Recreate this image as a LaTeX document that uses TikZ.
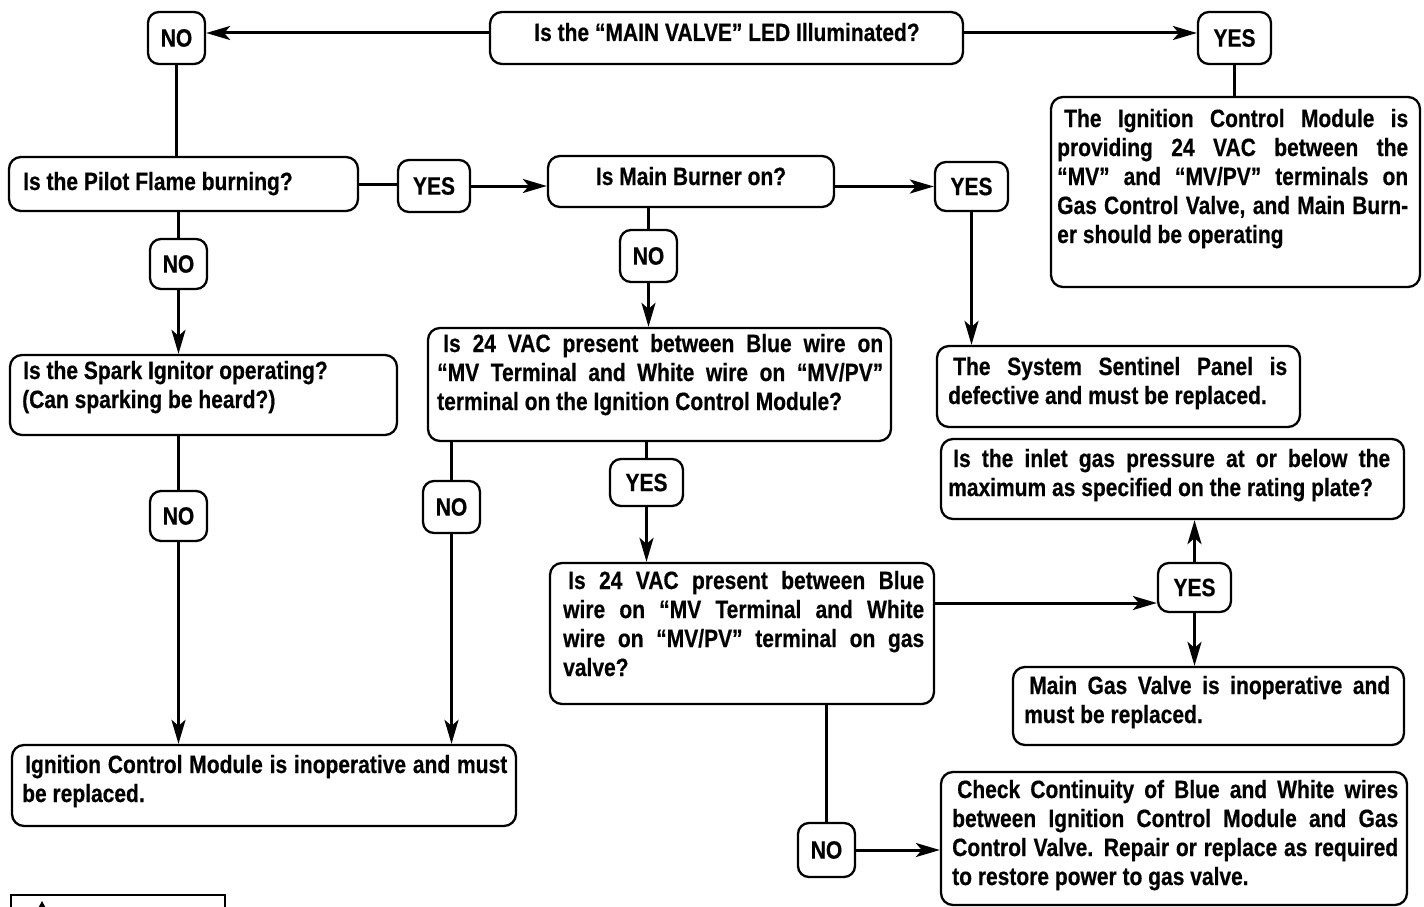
\documentclass[tikz,border=0pt]{standalone}
\usepackage{fontspec}
\setmainfont{Liberation Sans}[FakeStretch=0.84, FakeBold=0.5]
\usetikzlibrary{arrows.meta}
\tolerance=10000 \hyphenpenalty=10000 \exhyphenpenalty=10000 \hbadness=10000 \hfuzz=60pt
\newcommand\mkbox[7][rbox]{\node[#1, minimum width={(#5-#3)*1pt}, minimum height={(#6-#4)*1pt}] (#2) at ({(#3+#5)/2},{(#4+#6)/2}) {#7};}
\begin{document}
\begin{tikzpicture}[x=1pt,y=-1pt,
  dfont/.style={font=\fontsize{25}{29}\selectfont\bfseries},
  rbox/.style={draw, line width=2.3pt, rounded corners=12pt, inner sep=0pt},
  lbl/.style={draw, line width=2.3pt, rounded corners=11pt, inner sep=0pt, dfont},
  txt/.style={inner sep=0pt, dfont},
  ln/.style={line width=3pt},
  arr/.style={line width=3pt, -{Stealth[length=24pt,width=14pt,inset=6pt]}}]
\useasboundingbox (0,0) rectangle (1424,907);
\clip (0,0) rectangle (1424,907);

% ---- boxes ----
\mkbox{top}{490}{12}{963}{64}{}
\mkbox{icmR}{1051}{97}{1420}{287}{}
\mkbox{pilot}{9}{157}{358}{211}{}
\mkbox{burner}{548}{156}{834}{207}{}
\mkbox{spark}{10}{355}{397}{435}{}
\mkbox{vacICM}{428}{328}{891}{441}{}
\mkbox{sentinel}{937}{346}{1300}{427}{}
\mkbox{inlet}{941}{439}{1404}{519}{}
\mkbox{gasVAC}{550}{563}{934}{704}{}
\mkbox{mgv}{1013}{667}{1404}{745}{}
\mkbox{icmInop}{12}{745}{516}{826}{}
\mkbox{check}{941}{772}{1407}{905}{}

% ---- YES / NO labels ----
\mkbox[lbl]{noA}{148}{12}{205}{64}{NO}
\mkbox[lbl]{yesA}{1198}{12}{1271}{64}{YES}
\mkbox[lbl]{yesB}{398}{160}{470}{212}{YES}
\mkbox[lbl]{yesC}{935}{162}{1008}{211}{YES}
\mkbox[lbl]{noB}{620}{230}{677}{282}{NO}
\mkbox[lbl]{noC}{150}{239}{207}{289}{NO}
\mkbox[lbl]{noD}{150}{491}{207}{541}{NO}
\mkbox[lbl]{noE}{423}{481}{480}{533}{NO}
\mkbox[lbl]{yesD}{610}{459}{683}{506}{YES}
\mkbox[lbl]{yesE}{1158}{563}{1231}{612}{YES}
\mkbox[lbl]{noF}{798}{823}{855}{877}{NO}

% ---- texts ----
\node[txt, anchor=base] (topT) at (727,41) {Is the “MAIN VALVE” LED Illuminated?};
\node[txt, anchor=base west] (icmRT) at (1057,127) {\parbox[t]{351pt}{\hspace*{7pt}The Ignition Control Module is\linebreak providing 24 VAC between the\linebreak “MV” and “MV/PV” terminals on\linebreak Gas Control Valve, and Main Burn-\linebreak er should be operating}};
\node[txt, anchor=base west] (pilotT) at (23,190) {Is the Pilot Flame burning?};
\node[txt, anchor=base] (burnerT) at (691,185) {Is Main Burner on?};
\node[txt, anchor=base west] (sparkT) at (22,379) {\parbox[t]{360pt}{\hspace*{1pt}Is the Spark Ignitor operating?\\(Can sparking be heard?)}};
\node[txt, anchor=base west] (vacICMT) at (437,352) {\parbox[t]{446pt}{\hspace*{6pt}Is 24 VAC present between Blue wire on\linebreak “MV Terminal and White wire on “MV/PV”\linebreak terminal on the Ignition Control Module?}};
\node[txt, anchor=base west] (sentinelT) at (948,375) {\parbox[t]{339pt}{\hspace*{5pt}The System Sentinel Panel is\linebreak defective and must be replaced.}};
\node[txt, anchor=base west] (inletT) at (948,467) {\parbox[t]{442pt}{\hspace*{5pt}Is the inlet gas pressure at or below the\linebreak maximum as specified on the rating plate?}};
\node[txt, anchor=base west] (gasVACT) at (563,589) {\parbox[t]{361pt}{\hspace*{5pt}Is 24 VAC present between Blue\linebreak wire on “MV Terminal and White\linebreak wire on “MV/PV” terminal on gas\linebreak valve?}};
\node[txt, anchor=base west] (mgvT) at (1024,694) {\parbox[t]{366pt}{\hspace*{5pt}Main Gas Valve is inoperative and\linebreak must be replaced.}};
\node[txt, anchor=base west] (icmInopT) at (22,773) {\parbox[t]{485pt}{\hspace*{3pt}Ignition Control Module is inoperative and must\linebreak be replaced.}};
\node[txt, anchor=base west] (checkT) at (952,798) {\parbox[t]{446pt}{\hspace*{5pt}Check Continuity of Blue and White wires\linebreak between Ignition Control Module and Gas\linebreak Control Valve. Repair or replace as required\linebreak to restore power to gas valve.}};

% ---- helper coordinates ----
\coordinate (yTop) at (0,33);
\coordinate (yGas) at (0,603);

% ---- connectors ----
\draw[arr] (top.west |- yTop) -- (noA.east |- yTop);
\draw[arr] (top.east |- yTop) -- (yesA.west |- yTop);
\draw[ln] (yesA.south) -- (yesA.south |- icmR.north);
\draw[ln] (noA.south) -- (noA.south |- pilot.north);
\draw[ln] (pilot.east) -- (pilot.east -| yesB.west);
\draw[arr] (yesB.east) -- (yesB.east -| burner.west);
\draw[arr] (yesC.west -| burner.east) -- (yesC.west);
\draw[arr] (yesC.south) -- (yesC.south |- sentinel.north);
\draw[ln] (noB.north |- burner.south) -- (noB.north);
\draw[arr] (noB.south) -- (noB.south |- vacICM.north);
\draw[ln] (noC.north |- pilot.south) -- (noC.north);
\draw[arr] (noC.south) -- (noC.south |- spark.north);
\draw[ln] (noD.north |- spark.south) -- (noD.north);
\draw[arr] (noD.south) -- (noD.south |- icmInop.north);
\draw[ln] (noE.north |- vacICM.south) -- (noE.north);
\draw[arr] (noE.south) -- (noE.south |- icmInop.north);
\draw[ln] (yesD.north |- vacICM.south) -- (yesD.north);
\draw[arr] (yesD.south) -- (yesD.south |- gasVAC.north);
\draw[arr] (gasVAC.east |- yGas) -- (yesE.west |- yGas);
\draw[arr] (yesE.north) -- (yesE.north |- inlet.south);
\draw[arr] (yesE.south) -- (yesE.south |- mgv.north);
\draw[ln] (noF.north |- gasVAC.south) -- (noF.north);
\draw[arr] (noF.east) -- (noF.east -| check.west);

% ---- partly visible caution box at the lower left ----
\draw[line width=1.6pt] (11,930) -- (11,895) -- (225,895) -- (225,930);
\fill (42,901) -- (36,912) -- (48,912) -- cycle;
\end{tikzpicture}
\end{document}
